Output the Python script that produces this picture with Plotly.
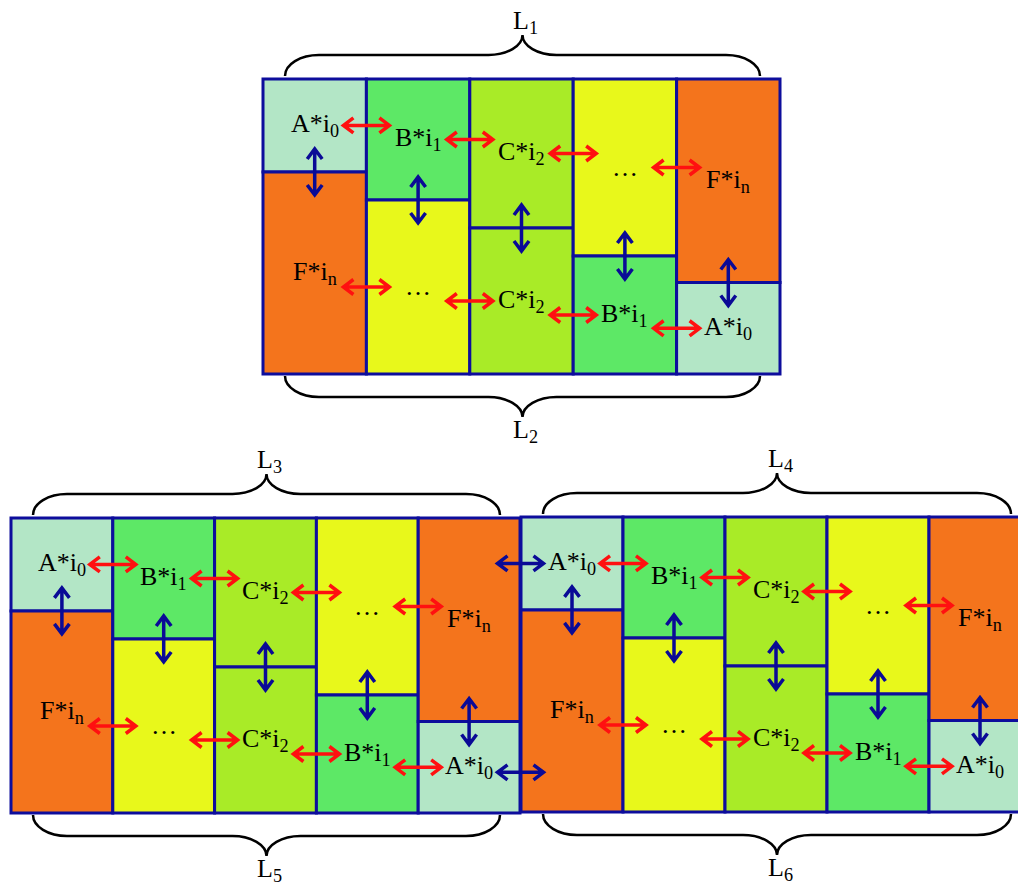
import plotly.graph_objects as go

# texts of the cells, left to right
top_labels = ["A*i<sub>0</sub>", "B*i<sub>1</sub>", "C*i<sub>2</sub>", "…", "F*i<sub>n</sub>"]
bottom_labels = ["F*i<sub>n</sub>", "…", "C*i<sub>2</sub>", "B*i<sub>1</sub>", "A*i<sub>0</sub>"]
top_keys = ["A", "B", "C", "dots", "F"]
bottom_keys = ["F", "dots", "C", "B", "A"]
# part of each column taken by its upper cell
top_share = [0.315, 0.41, 0.505, 0.6, 0.69]
brace_top_labels = ["L<sub>1</sub>", "L<sub>3</sub>", "L<sub>4</sub>"]
brace_bottom_labels = ["L<sub>2</sub>", "L<sub>5</sub>", "L<sub>6</sub>"]

COLORS = {"A": "#B3E6C6", "B": "#5DE866", "C": "#A9EB27", "dots": "#E8F81B", "F": "#F4741C"}
EDGE = "#0D0D9C"
RED = "#FF1010"
NAVY = "#0A0A96"
FONT = "Liberation Serif, Times New Roman, serif"

W, HGT = 1018, 886
# block placement: left, top, column width
BLOCKS = [(263, 79, 103.4), (11, 518, 101.8), (521, 517, 102)]
BH = 295


def h_arrow(xc, y, length=46, head=10, half=7.5):
    a, b = xc - length / 2, xc + length / 2
    return (f"M{a},{y} L{b},{y} "
            f"M{a + head},{y - half} L{a},{y} L{a + head},{y + half} "
            f"M{b - head},{y - half} L{b},{y} L{b - head},{y + half}")


def v_arrow(x, yc, length=46, head=10, half=7.5):
    a, b = yc - length / 2, yc + length / 2
    return (f"M{x},{a} L{x},{b} "
            f"M{x - half},{a + head} L{x},{a} L{x + half},{a + head} "
            f"M{x - half},{b - head} L{x},{b} L{x + half},{b - head}")


def brace(x0, x1, ye, s, dh=21, dt=41, r=34):
    # s = -1: brace above a block, s = 1: brace below
    xm = (x0 + x1) / 2
    yh = ye + s * dh
    yt = ye + s * dt
    yc = yt - s * 0.55 * (dt - dh)
    return (f"M{x0},{ye} C{x0},{ye + s * 0.55 * dh} {x0 + 0.45 * r},{yh} {x0 + r},{yh} "
            f"L{xm - r},{yh} C{xm - 0.45 * r},{yh} {xm},{yc} {xm},{yt} "
            f"C{xm},{yc} {xm + 0.45 * r},{yh} {xm + r},{yh} "
            f"L{x1 - r},{yh} C{x1 - 0.45 * r},{yh} {x1},{ye + s * 0.55 * dh} {x1},{ye}")


annotations = []
rects, arrows = [], []
label_pos = []

for bi, (left, top, cw) in enumerate(BLOCKS):
    bottom = top + BH
    tops, bots = [], []
    for i in range(len(top_labels)):
        x0 = left + i * cw
        x1 = x0 + cw
        xc = (x0 + x1) / 2
        ys = top + top_share[i] * BH
        rects.append(dict(type="rect", x0=x0, x1=x1, y0=top, y1=ys,
                          fillcolor=COLORS[top_keys[i]], line=dict(color=EDGE, width=3)))
        rects.append(dict(type="rect", x0=x0, x1=x1, y0=ys, y1=bottom,
                          fillcolor=COLORS[bottom_keys[i]], line=dict(color=EDGE, width=3)))
        tops.append((xc, (top + ys) / 2))
        bots.append((xc, (ys + bottom) / 2))
        annotations.append(dict(x=xc, y=(top + ys) / 2, text=top_labels[i]))
        annotations.append(dict(x=xc, y=(ys + bottom) / 2, text=bottom_labels[i]))
        arrows.append(dict(type="path", path=v_arrow(xc, ys), line=dict(color=NAVY, width=3.5)))
    for i in range(len(top_labels) - 1):
        xb = left + (i + 1) * cw
        # arrow sits at the height of the shorter neighbouring cell
        arrows.append(dict(type="path", path=h_arrow(xb, tops[i][1]),
                           line=dict(color=RED, width=3.5)))
        arrows.append(dict(type="path", path=h_arrow(xb, bots[i + 1][1]),
                           line=dict(color=RED, width=3.5)))
    label_pos.append((tops, bots))

    # braces above and below each block
    bx0, bx1 = left + 22, left + 5 * cw - 20
    arrows.append(dict(type="path", path=brace(bx0, bx1, top - 3, -1),
                       line=dict(color="black", width=2.5)))
    arrows.append(dict(type="path", path=brace(bx0, bx1, bottom + 2, 1),
                       line=dict(color="black", width=2.5)))
    annotations.append(dict(x=(bx0 + bx1) / 2 + 3, y=top - 57, text=brace_top_labels[bi]))
    annotations.append(dict(x=(bx0 + bx1) / 2 + 3, y=bottom + 57, text=brace_bottom_labels[bi]))

# links between the two lower blocks
l1, t1, c1 = BLOCKS[1]
l2, t2, c2 = BLOCKS[2]
xj = (l1 + 5 * c1 + l2) / 2
arrows.append(dict(type="path", path=h_arrow(xj, label_pos[2][0][0][1]),
                   line=dict(color=NAVY, width=3.5)))
arrows.append(dict(type="path", path=h_arrow(xj, label_pos[1][1][4][1] + 5),
                   line=dict(color=NAVY, width=3.5)))

for a in annotations:
    a.update(showarrow=False, xanchor="center", yanchor="middle",
             font=dict(family=FONT, size=26, color="black"))

fig = go.Figure(go.Scatter(x=[0], y=[0], mode="markers", marker=dict(opacity=0),
                           hoverinfo="skip", showlegend=False))
fig.update_layout(
    width=W, height=HGT,
    margin=dict(l=0, r=0, t=0, b=0),
    paper_bgcolor="white", plot_bgcolor="white",
    xaxis=dict(range=[0, W], visible=False, fixedrange=True),
    yaxis=dict(range=[HGT, 0], visible=False, fixedrange=True),
    shapes=rects + arrows,
    annotations=annotations,
)

# drop the page's default body margin so the figure fills the window exactly
fig.write_html("out.html", config={"displayModeBar": False},
               post_script="document.body.style.margin='0';document.body.style.overflow='hidden';")
